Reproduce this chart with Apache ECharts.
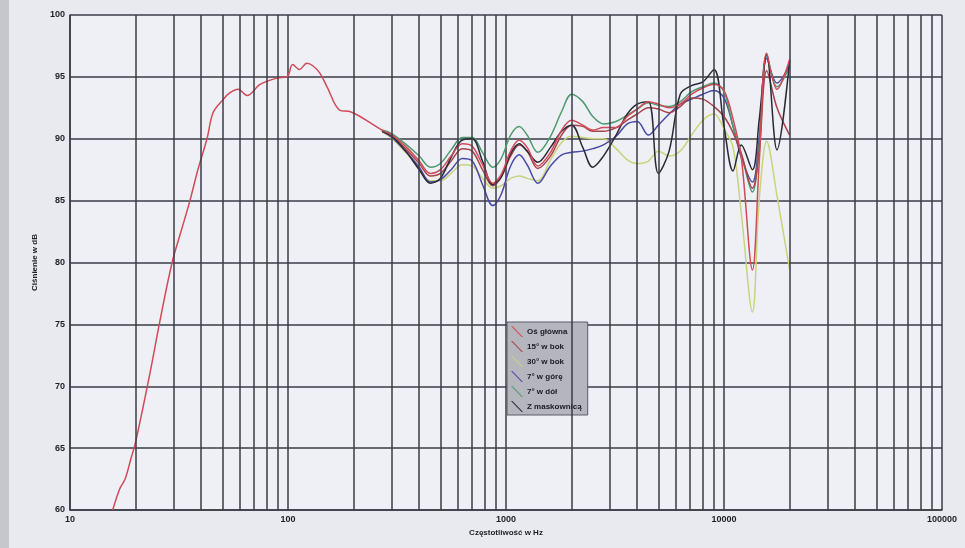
<!DOCTYPE html>
<html>
<head>
<meta charset="utf-8">
<title>Charakterystyka częstotliwościowa</title>
<script src="https://cdn.jsdelivr.net/npm/echarts@6/dist/echarts.min.js"></script>
<style>
html, body { margin: 0; padding: 0; background: #e8eaf0; }
#chart { width: 965px; height: 548px; }
</style>
</head>
<body>
<div id="chart"></div>
<script>
// niskie częstotliwości - wspólne dla osi głównej
const lowHz = [15.7, 16.9, 17.9, 19, 20, 23.3, 25.8, 29.4, 32.3, 35.5, 38.6, 42.5, 45.3, 50, 54, 59, 65, 74.5, 89, 99, 105, 113, 122, 130, 140, 151, 173, 192, 214, 238];
const lowDb = [60, 61.7, 62.5, 64.1, 65.5, 71.1, 75.2, 80, 82.5, 85, 87.5, 90, 92.1, 93.1, 93.7, 94, 93.5, 94.4, 94.9, 95, 96, 95.6, 96.1, 95.9, 95.3, 94.2, 92.3, 92.2, 91.8, 91.3];

// pomiary kątowe
const hz = [270, 300, 350, 400, 450, 500, 560, 630, 700, 780, 870, 950, 1050, 1150, 1250, 1400, 1600, 1800, 2000, 2250, 2500, 2800, 3200, 3600, 4000, 4500, 5000, 5600, 6300, 7100, 8000, 9000, 10000, 11000, 12000, 13500, 14500, 15700, 17500, 20000];
const osGlowna = [90.7, 90.3, 89.3, 88.2, 87.2, 87.5, 88.6, 89.6, 89.4, 87.9, 86.4, 87.1, 89.0, 89.9, 89.3, 87.8, 88.9, 90.7, 91.5, 91.1, 90.7, 90.9, 90.9, 91.8, 92.4, 93.0, 92.8, 92.5, 92.8, 93.6, 94.1, 94.4, 93.9, 91.6, 88.5, 79.4, 88.0, 96.9, 94.0, 96.4];
const bok15 = [90.6, 90.2, 89.1, 88.0, 87.0, 87.2, 88.2, 89.2, 89.0, 87.5, 86.2, 86.9, 88.6, 89.5, 89.0, 87.6, 88.6, 90.3, 91.1, 91.0, 90.6, 90.6, 90.9, 91.5, 92.0, 92.5, 92.4, 92.1, 92.6, 93.3, 93.2, 92.6, 91.8, 90.5, 88.8, 86.0, 89.0, 95.5, 92.5, 90.3];
const bok30 = [90.6, 90.0, 88.8, 87.6, 86.6, 86.6, 87.2, 87.9, 87.8, 86.8, 86.0, 86.2, 86.8, 87.0, 86.8, 86.6, 88.3, 89.7, 90.2, 90.1, 90.0, 90.0, 89.2, 88.3, 88.0, 88.2, 89.0, 88.6, 89.0, 90.3, 91.5, 92.0, 90.8, 89.3, 84.0, 76.0, 85.0, 89.8, 85.4, 79.4];
const gora7 = [90.6, 90.1, 88.9, 87.7, 86.5, 86.7, 87.5, 88.4, 88.2, 86.3, 84.6, 85.5, 87.8, 88.7, 87.9, 86.4, 87.8, 88.7, 88.9, 89.0, 89.2, 89.5, 90.2, 91.2, 91.4, 90.3, 91.1, 92.0, 92.8, 93.2, 93.6, 93.9, 93.3, 91.0, 88.5, 86.5, 90.0, 96.5, 94.5, 96.0];
const dol7 = [90.7, 90.4, 89.5, 88.6, 87.7, 88.0, 89.1, 90.1, 90.1, 88.9, 87.7, 88.4, 90.3, 91.0, 90.3, 88.9, 90.2, 92.2, 93.6, 93.0, 91.8, 91.2, 91.4, 91.9, 92.4, 92.9, 92.7, 92.6, 93.0, 93.8, 94.2, 94.5, 93.8, 91.0, 88.8, 85.7, 89.5, 96.7, 94.2, 95.8];
const maskownica = [90.6, 90.2, 88.9, 87.5, 86.4, 86.8, 88.5, 89.9, 90.0, 88.2, 86.3, 86.9, 88.8, 89.6, 89.0, 88.1, 89.3, 90.6, 91.1, 89.3, 87.7, 88.6, 90.3, 92.0, 92.8, 93.0, 87.2, 89.0, 93.6, 94.3, 94.6, 95.6, 91.0, 87.4, 89.5, 87.5, 91.5, 96.8, 89.1, 96.3];

const names = ['Oś główna', '15° w bok', '30° w bok', '7° w górę', '7° w dół', 'Z maskownicą'];
const colors = ['#d04a58', '#a8434a', '#c9d37c', '#4a4aa6', '#4e9a6c', '#2a2a36'];
const xTicks = [10, 100, 1000, 10000, 100000];

// linie siatki 2..9 w każdej dekadzie
const gridHz = [];
for (let d = 10; d < 100000; d *= 10) {
  for (let m = 2; m <= 9; m++) gridHz.push(m * d);
}

const pairs = (xs, ys) => xs.map((x, i) => [x, ys[i]]);
const curves = {
  'Oś główna': pairs(lowHz.concat(hz), lowDb.concat(osGlowna)),
  '15° w bok': pairs(hz, bok15),
  '30° w bok': pairs(hz, bok30),
  '7° w górę': pairs(hz, gora7),
  '7° w dół': pairs(hz, dol7),
  'Z maskownicą': pairs(hz, maskownica),
};
// kolejność rysowania
const drawOrder = ['30° w bok', '7° w górę', '7° w dół', '15° w bok', 'Z maskownicą', 'Oś główna'];

const gridColor = '#3b3b46';
const labelFont = { color: '#1e1e24', fontSize: 9, fontWeight: 'bold', fontFamily: 'Liberation Sans, Arial, sans-serif' };

const chart = echarts.init(document.getElementById('chart'));
chart.setOption({
  backgroundColor: '#e8eaf0',
  animation: false,
  graphic: [{
    type: 'rect', left: 0, top: 0, shape: { width: 9, height: 548 },
    style: { fill: '#c6c7cc' }, silent: true
  }],
  grid: {
    left: 70, right: 23, top: 15, bottom: 38,
    show: true, backgroundColor: '#eef0f6', borderWidth: 0
  },
  legend: {
    orient: 'vertical',
    left: 507, top: 322,
    backgroundColor: '#b5b5bd',
    borderColor: '#5a5a64', borderWidth: 1,
    padding: [4, 6, 3, 4],
    itemGap: 4,
    itemWidth: 12, itemHeight: 11,
    textStyle: { color: '#1a1a20', fontSize: 8, fontWeight: 'bold', fontFamily: 'Liberation Sans, Arial, sans-serif', padding: [0, 0, 0, -1] },
    data: names.map((n, i) => ({
      name: n,
      icon: 'path://M0,0 L1.4,0 L12,11 L10.6,11 Z',
      itemStyle: { color: colors[i] }
    }))
  },
  xAxis: {
    type: 'log', logBase: 10, min: 10, max: 100000,
    name: 'Częstotliwość w Hz', nameLocation: 'middle', nameGap: 15,
    nameTextStyle: { ...labelFont, fontSize: 8 },
    axisLine: { show: true, lineStyle: { color: gridColor, width: 1.5 } },
    axisTick: { show: false },
    axisLabel: { ...labelFont, margin: 5, formatter: v => xTicks.includes(v) ? String(v) : '' },
    splitLine: { show: true, lineStyle: { color: gridColor, width: 1.5 } }
  },
  yAxis: {
    type: 'value', min: 60, max: 100, interval: 5,
    name: 'Ciśnienie w dB', nameLocation: 'middle', nameGap: 20,
    nameTextStyle: { ...labelFont, fontSize: 8 },
    axisLine: { show: true, lineStyle: { color: gridColor, width: 1.5 } },
    axisTick: { show: false },
    axisLabel: { ...labelFont, margin: 5 },
    splitLine: { show: true, lineStyle: { color: gridColor, width: 1.5 } }
  },
  series: [{
    type: 'line', name: 'siatka', data: [[10, 60]], z: 1,
    showSymbol: false, lineStyle: { opacity: 0 }, silent: true,
    markLine: {
      silent: true, symbol: 'none', label: { show: false },
      lineStyle: { color: gridColor, width: 1.5, type: 'solid' },
      data: gridHz.map(v => ({ xAxis: v }))
    }
  }].concat(drawOrder.map(n => ({
    type: 'line',
    name: n,
    data: curves[n],
    z: 3,
    smooth: 0.35,
    showSymbol: false,
    color: colors[names.indexOf(n)],
    lineStyle: { width: 1.5, color: colors[names.indexOf(n)] }
  })))
});
</script>
</body>
</html>
